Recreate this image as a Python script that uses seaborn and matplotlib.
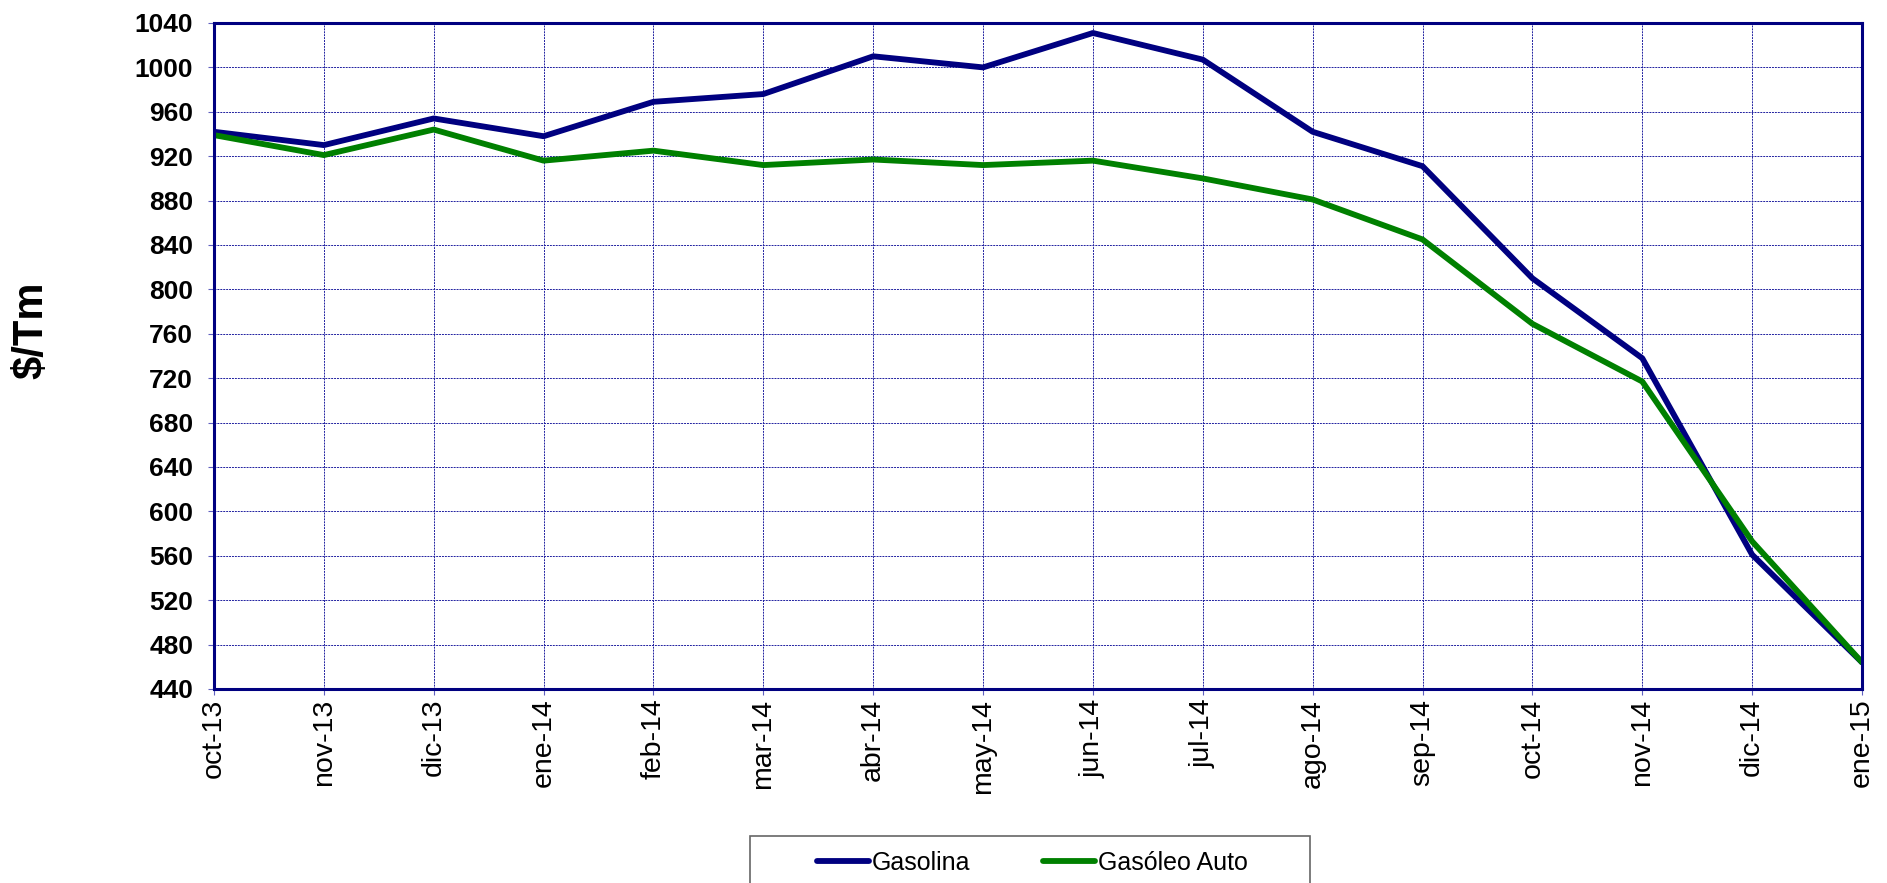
import pandas as pd
import matplotlib
matplotlib.use("Agg")
import matplotlib.pyplot as plt
from matplotlib.patches import Rectangle
import seaborn as sns

# Precios internacionales (medias mensuales), $/Tm
meses = ["oct-13", "nov-13", "dic-13", "ene-14", "feb-14", "mar-14", "abr-14", "may-14",
         "jun-14", "jul-14", "ago-14", "sep-14", "oct-14", "nov-14", "dic-14", "ene-15"]
gasolina = [942, 930, 954, 938, 969, 976, 1010, 1000, 1031, 1007, 942, 911, 810, 738, 561, 464]
gasoleo_auto = [939, 921, 944, 916, 925, 912, 917, 912, 916, 900, 881, 845, 769, 717, 573, 464]
series = ["Gasolina", "Gasóleo Auto"]
colores = ["#000080", "#008000"]
yticks = list(range(440, 1041, 40))

W, H = 1887, 883


def main():
    df = pd.DataFrame({
        "mes": meses * 2,
        "precio": gasolina + gasoleo_auto,
        "serie": [series[0]] * len(meses) + [series[1]] * len(meses),
    })

    sns.set_theme(style="white")
    plt.rcParams["font.family"] = ["Liberation Sans", "DejaVu Sans"]
    plt.rcParams["text.color"] = "black"
    plt.rcParams["xtick.labelcolor"] = "black"
    plt.rcParams["ytick.labelcolor"] = "black"

    fig = plt.figure(figsize=(W / 100, H / 100), dpi=100)
    ax = fig.add_axes([214 / W, 1 - 689 / H, (1862 - 214) / W, (689 - 23) / H])

    sns.lineplot(data=df, x="mes", y="precio", hue="serie", hue_order=series,
                 palette=colores, sort=False, linewidth=4.2, ax=ax, legend=False)

    ax.set_xlim(0, len(meses) - 1)
    ax.set_ylim(yticks[0], yticks[-1])
    ax.set_yticks(yticks)
    ax.set_xticks(range(len(meses)))
    ax.set_xticklabels(meses, rotation=90, fontsize=20.5, color="black")
    ax.set_yticklabels([str(v) for v in yticks], fontsize=19, fontweight="bold",
                       color="black")
    ax.set_xlabel("")
    ax.set_ylabel("")

    # rejilla punteada azul
    ax.grid(True, color="#2020a0", linestyle=(0, (2, 1)), linewidth=0.7)
    ax.set_axisbelow(True)
    for s in ax.spines.values():
        s.set_color("#000080")
        s.set_linewidth(2.2)
    ax.tick_params(axis="both", direction="out", length=4, width=0.8,
                   color="#6060c0", bottom=True, left=True)
    ax.tick_params(axis="y", pad=11)
    ax.tick_params(axis="x", pad=3)

    fig.text(31 / W, 1 - 330 / H, "$/Tm", rotation=90, ha="center", va="center",
             fontsize=30, fontweight="bold", color="black")

    # leyenda
    handles = [plt.Line2D([], [], color=c, linewidth=4.2, solid_capstyle="round")
               for c in colores]
    fig.legend(handles, series, loc="center", bbox_to_anchor=(1032 / W, 1 - 863 / H),
               ncol=2, frameon=False, fontsize=18, handlelength=2.1,
               handletextpad=0.1, columnspacing=2.9, labelcolor="black")
    fig.add_artist(Rectangle((750 / W, -0.02), 560 / W, 0.02 + (H - 836) / H,
                             transform=fig.transFigure, fill=False,
                             edgecolor="#666666", linewidth=1.2, clip_on=False))

    fig.savefig("out.png", dpi=100)


if __name__ == "__main__":
    main()
